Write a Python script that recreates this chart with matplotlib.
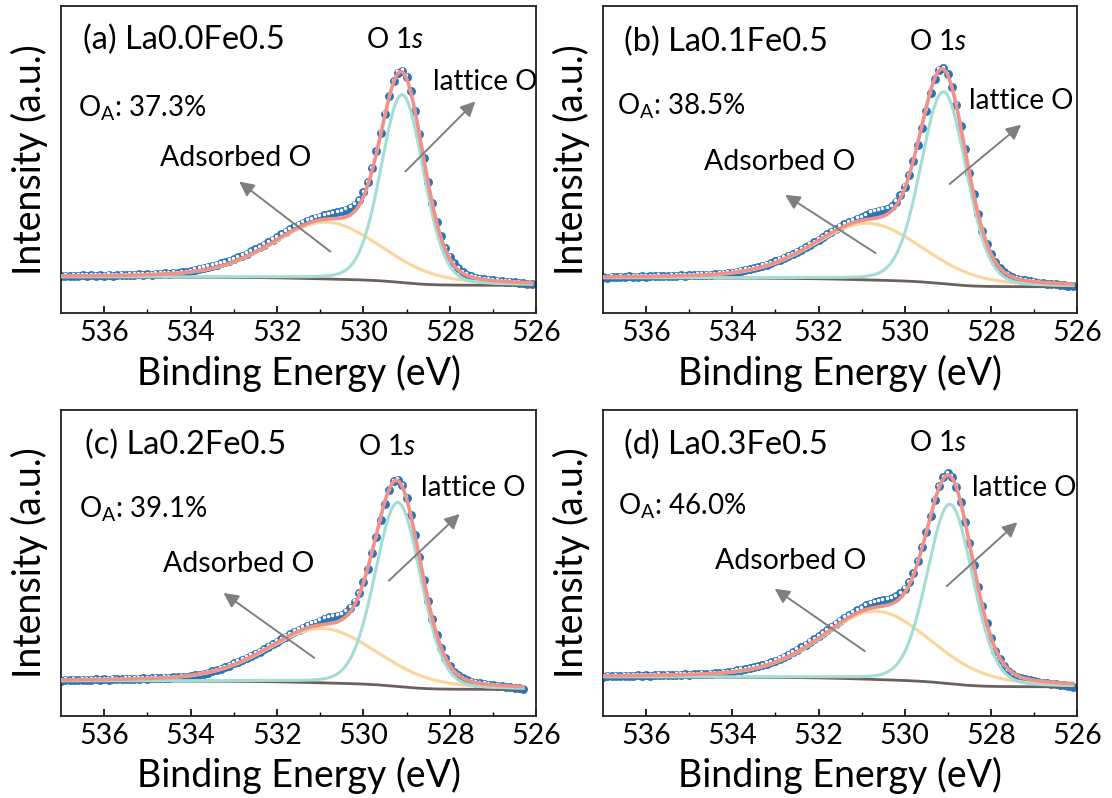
import numpy as np
import matplotlib
matplotlib.use('Agg')
import matplotlib.pyplot as plt
from matplotlib.transforms import ScaledTranslation

plt.rcParams['font.family'] = ['Lato', 'DejaVu Sans']
plt.rcParams['mathtext.fontset'] = 'custom'
plt.rcParams['mathtext.rm'] = 'Lato'
plt.rcParams['mathtext.it'] = 'Lato:italic'

# ---------------- data ----------------
E_START = 537.0   # first measured point (eV)
E_STEP = 0.1      # spacing of measured points (eV)

counts_a = [0.3, 0.6, 0.4, 0.7, 0.5, 0.8, 0.5, 0.9, 0.6, 0.8, 0.7, 1.0, 0.7, 0.9, 1.1, 0.8, 1.2, 1.0, 1.3, 1.1,
            1.4, 1.2, 1.6, 1.5, 1.8, 1.7, 2.0, 1.9, 2.3, 2.4, 2.8,
            3.6, 4.0, 4.5, 4.9, 5.5, 6.0, 6.6, 7.2, 7.9, 8.6,
            9.5, 10.4, 11.3, 12.4, 13.4, 14.5, 15.7, 16.9, 18.1, 19.3,
            20.7, 21.9, 23.1, 24.3, 25.4, 26.4, 27.3, 28.1, 28.8, 29.3,
            30.0, 30.5, 31.0, 31.4, 31.8, 32.5, 33.5, 35.0, 37.3, 41.0,
            46.0, 52.8, 61.0, 70.0, 79.2, 87.8, 94.8, 99.0, 100.0, 97.0,
            90.0, 80.5, 69.3, 57.5, 46.0, 35.8, 26.9, 19.7, 14.0, 9.8,
            6.6, 4.2, 2.4, 1.2, 0.4, -0.3, -0.8, -1.1, -1.4, -1.6,
            -1.8, -2.0, -2.2, -2.4, -2.6, -2.8, -3.0, -3.3, -3.5]

counts_b = [0.4, 0.2, 0.5, 0.3, 0.6, 0.4, 0.7, 0.5, 0.6, 0.8, 0.6, 0.9, 0.7, 1.0, 0.8, 0.9, 1.1, 1.0, 1.2, 1.1,
            1.3, 1.2, 1.4, 1.5, 1.4, 1.6, 1.8, 2.0, 2.1, 2.4, 2.6,
            3.0, 3.4, 3.8, 4.2, 4.6, 5.2, 5.8, 6.4, 7.1, 7.9,
            8.7, 9.6, 10.5, 11.4, 12.4, 13.5, 14.6, 15.8, 17.0, 18.2,
            19.5, 20.8, 22.0, 23.2, 24.4, 25.5, 26.5, 27.4, 28.3, 29.0,
            30.0, 31.0, 31.6, 32.0, 32.4, 33.0, 34.3, 36.3, 39.4, 43.6,
            49.0, 55.8, 63.6, 71.5, 79.8, 88.0, 94.8, 99.3, 100.0, 97.2,
            91.0, 82.6, 72.5, 61.4, 50.2, 39.8, 30.6, 22.6, 16.2, 11.2,
            7.4, 4.6, 2.8, 1.4, 0.4, -0.3, -0.8, -1.2, -1.5, -1.9,
            -2.2, -2.5, -2.7, -2.9, -3.1, -3.3, -3.5, -3.8, -4.0]

counts_c = [0.2, 0.5, 0.3, 0.6, 0.4, 0.7, 0.5, 0.6, 0.8, 0.6, 0.9, 0.7, 1.0, 0.8, 0.9, 1.1, 1.0, 1.2, 1.1, 1.3,
            1.2, 1.4, 1.5, 1.4, 1.6, 1.6, 1.8, 1.9, 2.1, 2.2,
            2.4, 2.8, 3.2, 3.6, 4.1, 4.7, 5.3, 6.0, 6.8, 7.6,
            8.7, 9.6, 10.5, 11.4, 12.4, 13.5, 14.6, 15.8, 17.0, 18.2,
            19.5, 20.8, 22.0, 23.2, 24.4, 25.5, 26.5, 27.4, 28.3, 29.0,
            30.0, 31.0, 31.6, 32.0, 32.4, 33.0, 34.3, 36.3, 39.4, 43.6,
            49.0, 55.8, 63.6, 71.5, 79.8, 88.0, 94.8, 99.3, 100.0, 97.2,
            91.0, 82.6, 72.5, 61.4, 50.2, 39.8, 30.6, 22.6, 16.2, 11.2,
            7.4, 4.6, 2.8, 1.4, 0.4, -0.3, -0.8, -1.2, -1.5, -1.9,
            -2.2, -2.5, -2.7, -2.9, -3.1, -3.3, -3.5, -3.8]

counts_d = [0.2, 0.5, 0.3, 0.6, 0.4, 0.7, 0.5, 0.6, 0.8, 0.6, 0.9, 0.7, 0.8, 1.0, 0.8, 1.1, 0.9, 1.2, 1.0, 1.3,
            1.1, 1.4, 1.3, 1.5, 1.4, 1.7, 1.8, 1.9, 2.1, 2.3, 2.5,
            3.2, 3.5, 3.9, 4.3, 4.8, 5.3, 5.8, 6.5, 7.2, 8.0,
            9.0, 10.0, 11.0, 12.1, 13.3, 14.5, 15.8, 17.2, 18.6, 20.0,
            21.5, 23.0, 24.6, 26.1, 27.6, 29.0, 30.4, 31.6, 32.7, 33.7,
            35.1, 36.0, 36.7, 37.2, 37.6, 38.0, 38.6, 39.5, 41.0, 43.3,
            46.5, 51.0, 56.8, 63.6, 71.3, 79.2, 86.9, 93.5, 98.0, 100.0,
            98.3, 93.4, 85.8, 76.2, 65.6, 54.8, 44.3, 34.8, 26.4, 19.3,
            13.0, 8.6, 5.4, 3.0, 1.3, 0.2, -0.6, -1.2, -1.7, -2.1,
            -2.5, -2.8, -3.1, -3.4, -3.6, -3.9, -4.1, -4.4, -4.7]

titles = ['(a) La0.0Fe0.5', '(b) La0.1Fe0.5', '(c) La0.2Fe0.5', '(d) La0.3Fe0.5']
oa_values = ['37.3%', '38.5%', '39.1%', '46.0%']

# peak-fit parameters (centre eV, FWHM eV, height)
lattice_center = [529.10, 529.10, 529.20, 528.95]
lattice_fwhm = [1.16, 1.25, 1.25, 1.25]
lattice_height = [91.0, 91.5, 91.5, 88.0]
ads_center = [530.85, 530.85, 530.95, 530.65]
ads_fwhm = [3.0, 3.0, 3.0, 3.0]
ads_height = [27.5, 27.0, 27.0, 33.5]
bg_right = [-4.0, -4.2, -4.2, -4.8]
ylims = [(-17.4, 131.3), (-16.7, 129.7), (-17.4, 134.7), (-19.1, 131.0)]

# ---------------- style / layout ----------------
C_DOT = '#2B74B8'
C_ENV = '#F1928A'
C_LAT = '#A3DDD6'
C_ADS = '#FBD59B'
C_BG = '#6B605C'
C_ARR = '#7F7F7F'

axes_rect = [[0.0549, 0.6078, 0.4272, 0.3847],
             [0.5423, 0.6078, 0.4263, 0.3847],
             [0.0549, 0.1028, 0.4272, 0.3835],
             [0.5423, 0.1028, 0.4263, 0.3835]]

text_pos = [  # title, O_A, O 1s, lattice O, Adsorbed O, ads arrow (tail, head), lat arrow (tail, head)
    dict(title=(0.047, 0.889), oa=(0.035, 0.667), o1s=(0.703, 0.889), lat=(0.782, 0.754), ads=(0.367, 0.504),
         aarr=((0.567, 0.200), (0.375, 0.428)), larr=((0.725, 0.461), (0.872, 0.689))),
    dict(title=(0.045, 0.884), oa=(0.030, 0.672), o1s=(0.706, 0.884), lat=(0.771, 0.689), ads=(0.373, 0.493),
         aarr=((0.575, 0.195), (0.384, 0.385)), larr=((0.731, 0.420), (0.882, 0.613))),
    dict(title=(0.051, 0.886), oa=(0.037, 0.674), o1s=(0.686, 0.880), lat=(0.757, 0.745), ads=(0.374, 0.495),
         aarr=((0.533, 0.190), (0.342, 0.402)), larr=((0.690, 0.442), (0.839, 0.660))),
    dict(title=(0.045, 0.886), oa=(0.032, 0.685), o1s=(0.706, 0.891), lat=(0.778, 0.745), ads=(0.395, 0.505),
         aarr=((0.552, 0.212), (0.362, 0.416)), larr=((0.725, 0.424), (0.874, 0.633))),
]


def pseudo_voigt(e, c, w, h, eta):
    d = e - c
    return h * ((1 - eta) * np.exp(-4 * np.log(2) * d ** 2 / w ** 2) + eta / (1 + 4 * d ** 2 / w ** 2))


fig = plt.figure(figsize=(11.12, 7.98), dpi=100)
all_counts = [counts_a, counts_b, counts_c, counts_d]

for i in range(4):
    ax = fig.add_axes(axes_rect[i])
    y = np.array(all_counts[i])
    e = E_START - E_STEP * np.arange(len(y))

    # fitted model curves on a fine grid spanning the measured range
    ef = np.linspace(e[0], e[-1], 800)
    lat = pseudo_voigt(ef, lattice_center[i], lattice_fwhm[i], lattice_height[i], 0.15)
    ads = pseudo_voigt(ef, ads_center[i], ads_fwhm[i], ads_height[i], 0.3)
    peaks = lat + ads
    cum = np.cumsum(peaks[::-1])[::-1]
    bg = bg_right[i] + (0.0 - bg_right[i]) * cum / cum[0]

    ax.plot(e, y, 'o', ms=6.4, mfc=C_DOT, mec=C_DOT, mew=0, zorder=2)
    hl = ax.transData + ScaledTranslation(-0.5 / 72, 1.1 / 72, fig.dpi_scale_trans)
    ax.plot(e, y, 'o', ms=2.5, mfc='white', mec='white', mew=0, transform=hl, zorder=2.1)

    ax.plot(ef, bg, color=C_BG, lw=2.0, zorder=3)
    ax.plot(ef, bg + ads, color=C_ADS, lw=2.2, zorder=4)
    ax.plot(ef, bg + lat, color=C_LAT, lw=2.2, zorder=5)
    ax.plot(ef, bg + peaks, color=C_ENV, lw=2.6, zorder=6)

    ax.set_xlim(537, 526)
    ax.set_ylim(*ylims[i])
    ax.set_xticks([536, 534, 532, 530, 528, 526])
    ax.set_xticks([535, 533, 531, 529, 527], minor=True)
    ax.set_yticks([])
    ax.tick_params(axis='x', which='major', direction='in', length=5, width=1.2, labelsize=20.5, pad=5)
    ax.tick_params(axis='x', which='minor', direction='in', length=3, width=1.0)
    for sp in ax.spines.values():
        sp.set_linewidth(1.3)
        sp.set_color('#222222')

    ax.set_xlabel('Binding Energy (eV)', fontsize=27)
    ax.xaxis.set_label_coords(0.5, -0.135)
    ax.set_ylabel('Intensity (a.u.)', fontsize=27)
    ax.yaxis.set_label_coords(-0.028, 0.5)

    tp = text_pos[i]
    ax.text(*tp['title'], titles[i], transform=ax.transAxes, fontsize=23.5, ha='left', va='center')
    ax.text(*tp['oa'], r'O$_{\mathregular{A}}$: ' + oa_values[i], transform=ax.transAxes,
            fontsize=20, ha='left', va='center')
    ax.text(*tp['o1s'], r'O 1$\it{s}$', transform=ax.transAxes, fontsize=20, ha='center', va='center')
    ax.text(*tp['lat'], 'lattice O', transform=ax.transAxes, fontsize=20, ha='left', va='center')
    ax.text(*tp['ads'], 'Adsorbed O', transform=ax.transAxes, fontsize=20.5, ha='center', va='center')

    for tail, head in (tp['aarr'], tp['larr']):
        ax.annotate('', xy=head, xycoords='axes fraction', xytext=tail, textcoords='axes fraction',
                    arrowprops=dict(arrowstyle='-|>', color=C_ARR, lw=1.4, mutation_scale=22,
                                    shrinkA=0, shrinkB=0), zorder=7)

fig.savefig('out.png', dpi=100)
